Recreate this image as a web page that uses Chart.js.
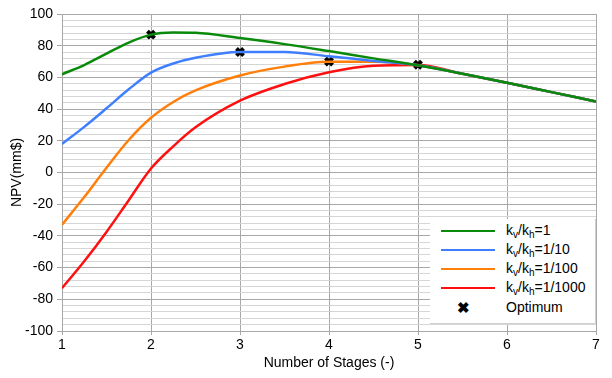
<!DOCTYPE html>
<html>
<head>
<meta charset="utf-8">
<script src="https://cdn.jsdelivr.net/npm/chart.js@4/dist/chart.umd.min.js"></script>
<style>
  html, body { margin: 0; padding: 0; background: #fff; }
  #wrap { position: relative; width: 612px; height: 378px; }
  #legend {
    position: absolute; left: 430px; top: 219px; width: 165px; height: 104px;
    background: #fff; border: 1px solid #d0d0d0; border-left: none; border-top: none;
    font-family: "Liberation Sans", Arial, sans-serif; font-size: 14px; color: #000;
  }
  .row { position: absolute; left: 0; height: 19px; width: 165px; }
  .swatch { position: absolute; left: 11px; width: 54px; height: 0; border-top: 2.5px solid; top: 9px; }
  .mark { position: absolute; left: 27px; top: 1px; font-size: 15px; font-weight: bold; }
  .txt { position: absolute; left: 76px; top: 1px; white-space: nowrap; }
  .txt sub { font-size: 10px; vertical-align: -3px; line-height: 0; }
</style>
</head>
<body>
<div id="wrap">
  <canvas id="chart" width="612" height="378"></canvas>
  <div id="legend"></div>
</div>
<script>
const stages = [1, 1.25, 1.5, 1.75, 2, 2.25, 2.5, 3, 3.5, 4, 4.5, 5, 5.5, 6, 6.5, 7]
const npvRatio1 = [62, 67.8, 75, 82, 87, 88.3, 88.1, 84.8, 81, 76.6, 72, 67.6, 62.3, 56.6, 50.7, 44.8]
const npvRatio10 = [18, 28.8, 40.5, 52.5, 63, 68.8, 72.4, 76, 76, 73.3, 70.4, 67.6, 62.3, 56.6, 50.7, 44.8]
const npvRatio100 = [-33, -15.5, 3, 20.5, 34.5, 44.5, 51.8, 61.2, 66.8, 69.8, 69.8, 67.6, 62.3, 56.6, 50.7, 44.8]
const npvRatio1000 = [-73, -56, -37.5, -17.5, 2.5, 16.5, 28.5, 45.3, 55.8, 63.2, 67.3, 67.8, 62.3, 56.6, 50.7, 44.8]
const optimumStages = [2, 3, 4, 5]
const optimumNpv = [87, 76, 70, 68]
const ratioLabels = ["1", "1/10", "1/100", "1/1000"]
const lineColors = ["#0a8a0a", "#3f7fff", "#ff7f0a", "#ff1010"]

const font = { family: "'Liberation Sans', Arial, sans-serif", size: 14 }
const series = [npvRatio1, npvRatio10, npvRatio100, npvRatio1000]

const datasets = series.map((vals, i) => ({
  label: "kv/kh=" + ratioLabels[i],
  data: stages.map((x, j) => ({ x, y: vals[j] })),
  borderColor: lineColors[i],
  borderWidth: 2.5,
  pointRadius: 0,
  cubicInterpolationMode: "monotone",
  fill: false
}))

datasets.push({
  label: "Optimum",
  data: optimumStages.map((x, j) => ({ x, y: optimumNpv[j] })),
  showLine: false,
  pointStyle: "crossRot",
  pointRadius: 5,
  borderWidth: 4,
  borderColor: "#000",
  backgroundColor: "#000"
})

new Chart(document.getElementById("chart"), {
  type: "line",
  data: { datasets },
  options: {
    responsive: false,
    animation: false,
    events: [],
    layout: { padding: { top: 14, right: 16, left: 0, bottom: 0 } },
    plugins: { legend: { display: false }, tooltip: { enabled: false } },
    scales: {
      x: {
        type: "linear",
        min: 1,
        max: 7,
        ticks: { stepSize: 1, color: "#000", font, padding: 2 },
        grid: { color: "#a8a8a8", tickLength: 4, tickColor: "#a8a8a8" },
        border: { color: "#a8a8a8" },
        title: { display: true, text: "Number of Stages (-)", color: "#000", font, padding: { top: 0, bottom: 6 } },
        afterFit: (scale) => { scale.height = 47 }
      },
      y: {
        min: -100,
        max: 100,
        ticks: {
          stepSize: 4,
          color: "#000",
          font,
          padding: 4,
          autoSkip: false,
          callback: (v) => (v % 20 === 0 ? String(v) : "")
        },
        grid: {
          color: (ctx) => (ctx.tick && ctx.tick.value % 20 === 0 ? "#a8a8a8" : "#d6d6d6"),
          tickColor: (ctx) => (ctx.tick && ctx.tick.value % 20 === 0 ? "#a8a8a8" : "rgba(0,0,0,0)"),
          tickLength: 5
        },
        border: { color: "#a8a8a8" },
        title: { display: true, text: "NPV(mm$)", color: "#000", font, padding: { top: 9, bottom: 0 } },
        afterFit: (scale) => { scale.width = 62 }
      }
    }
  }
})

// legend box drawn as html over the plot area
const legend = document.getElementById("legend")
ratioLabels.forEach((r, i) => {
  const row = document.createElement("div")
  row.className = "row"
  row.style.top = (2 + i * 19) + "px"
  row.innerHTML = '<div class="swatch" style="border-color:' + lineColors[i] + '"></div>' +
    '<div class="txt">k<sub>v</sub>/k<sub>h</sub>=' + r + '</div>'
  legend.appendChild(row)
})
const opt = document.createElement("div")
opt.className = "row"
opt.style.top = (2 + 4 * 19 + 1) + "px"
opt.innerHTML = '<div class="mark">&#10006;</div><div class="txt">Optimum</div>'
legend.appendChild(opt)
</script>
</body>
</html>
